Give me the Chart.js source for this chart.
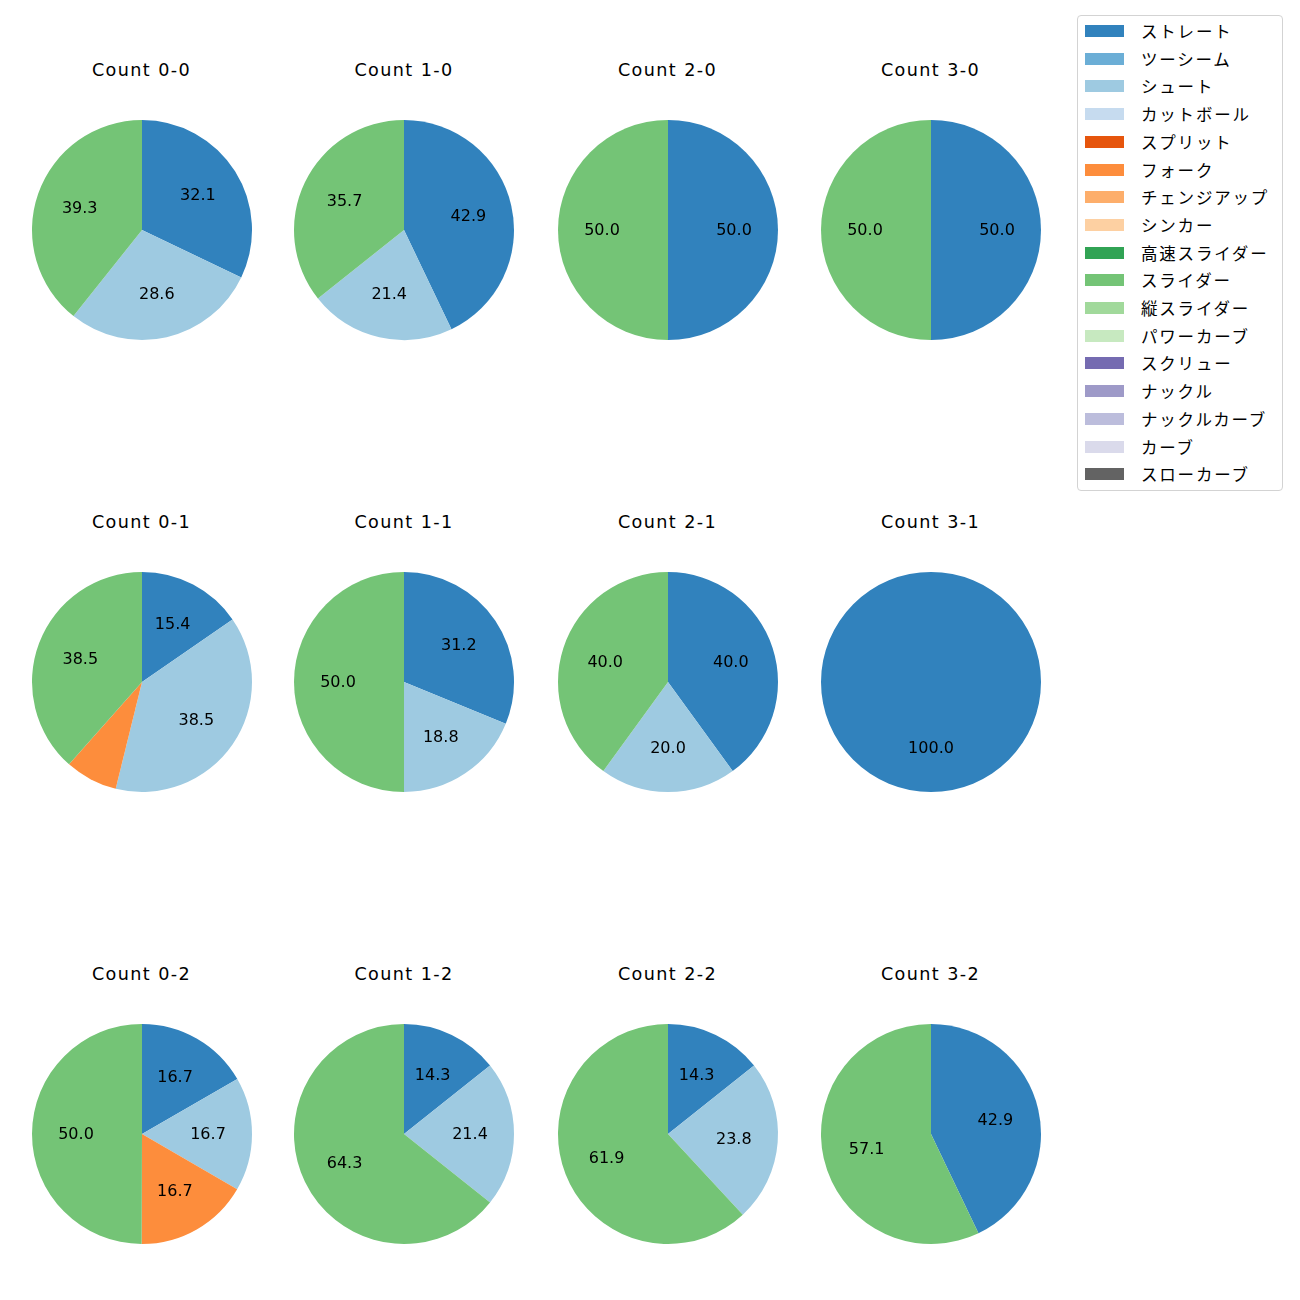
<!DOCTYPE html>
<html>
<head>
<meta charset="utf-8">
<script src="https://cdn.jsdelivr.net/npm/chart.js@4.4.1/dist/chart.umd.min.js"></script>
<style>
  body { margin: 0; background: #fff; font-family: "Noto Sans CJK JP", "DejaVu Sans", sans-serif; }
  #wrap { position: relative; width: 1300px; height: 1300px; }
  .pie { position: absolute; width: 240px; height: 240px; }
  .title { position: absolute; width: 240px; height: 24px; line-height: 24px; text-align: center;
           font-family: "DejaVu Sans", sans-serif; font-size: 17.6px; letter-spacing: 1.4px; color: #000; }
  #legend { position: absolute; left: 1077px; top: 15px; width: 204px; height: 474px; border: 1px solid #d3d3d3; border-radius: 4px; background: #fff; }
  .row { position: absolute; left: 0; height: 20px; width: 200px; }
  .row .sw { position: absolute; left: 7px; top: 4px; width: 39px; height: 12px; }
  .row .tx { position: absolute; left: 63px; top: 0; line-height: 20px; font-size: 16.5px; letter-spacing: 1.8px; color: #000; white-space: nowrap; }
</style>
</head>
<body>
<div id="wrap"></div>
<script>
// pitch types, in legend order
const pitchTypes = ['ストレート', 'ツーシーム', 'シュート', 'カットボール', 'スプリット', 'フォーク',
  'チェンジアップ', 'シンカー', '高速スライダー', 'スライダー', '縦スライダー', 'パワーカーブ',
  'スクリュー', 'ナックル', 'ナックルカーブ', 'カーブ', 'スローカーブ'];
const pitchColors = ['#3182bd', '#6baed6', '#9ecae1', '#c6dbef', '#e6550d', '#fd8d3c',
  '#fdae6b', '#fdd0a2', '#31a354', '#74c476', '#a1d99b', '#c7e9c0',
  '#756bb1', '#9e9ac8', '#bcbddc', '#dadaeb', '#636363'];

// counts, row by row
const counts = ['0-0', '1-0', '2-0', '3-0', '0-1', '1-1', '2-1', '3-1', '0-2', '1-2', '2-2', '3-2'];

// percentages per count (same order as counts)
const straight = [32.1, 42.9, 50.0, 50.0, 15.4, 31.2, 40.0, 100.0, 16.7, 14.3, 14.3, 42.9];
const shoot    = [28.6, 21.4, 0, 0, 38.5, 18.8, 20.0, 0, 16.7, 21.4, 23.8, 0];
const fork     = [0, 0, 0, 0, 7.7, 0, 0, 0, 16.7, 0, 0, 0];
const slider   = [39.3, 35.7, 50.0, 50.0, 38.5, 50.0, 40.0, 0, 50.0, 64.3, 61.9, 57.1];

const colX = [141.5, 404, 667.5, 930.5];
const rowY = [230, 682, 1134];
const titleY = [69, 521, 973];

// percent labels at 0.6 of the radius, hidden under 10%
const pctLabels = {
  id: 'pctLabels',
  afterDatasetsDraw(chart) {
    const ctx = chart.ctx;
    const meta = chart.getDatasetMeta(0);
    const vals = chart.data.datasets[0].data;
    ctx.save();
    ctx.font = '16px "DejaVu Sans", sans-serif';
    ctx.fillStyle = '#000';
    ctx.textAlign = 'center';
    ctx.textBaseline = 'middle';
    meta.data.forEach((arc, i) => {
      if (vals[i] < 10) return;
      const p = arc.getProps(['x', 'y', 'startAngle', 'endAngle', 'outerRadius'], true);
      const a = (p.startAngle + p.endAngle) / 2;
      const r = p.outerRadius * 0.6;
      ctx.fillText(vals[i].toFixed(1), p.x + r * Math.cos(a), p.y + r * Math.sin(a) + 1);
    });
    ctx.restore();
  }
};

const wrap = document.getElementById('wrap');

counts.forEach((c, k) => {
  const cx = colX[k % 4], cy = rowY[Math.floor(k / 4)];
  const t = document.createElement('div');
  t.className = 'title';
  t.textContent = 'Count ' + c;
  t.style.left = (cx - 120) + 'px';
  t.style.top = (titleY[Math.floor(k / 4)] - 11) + 'px';
  wrap.appendChild(t);

  const cv = document.createElement('canvas');
  cv.className = 'pie';
  cv.width = 240; cv.height = 240;
  cv.style.left = (cx - 120) + 'px';
  cv.style.top = (cy - 120) + 'px';
  wrap.appendChild(cv);

  const data = pitchTypes.map(() => 0);
  data[0] = straight[k];
  data[2] = shoot[k];
  data[5] = fork[k];
  data[9] = slider[k];

  new Chart(cv.getContext('2d'), {
    type: 'pie',
    data: {
      labels: pitchTypes,
      datasets: [{ data: data, backgroundColor: pitchColors, borderWidth: 0, hoverOffset: 0 }]
    },
    options: {
      responsive: false,
      maintainAspectRatio: false,
      animation: false,
      layout: { padding: 10 },
      plugins: { legend: { display: false }, tooltip: { enabled: false } }
    },
    plugins: [pctLabels]
  });
});

// legend
const legend = document.createElement('div');
legend.id = 'legend';
pitchTypes.forEach((name, i) => {
  const row = document.createElement('div');
  row.className = 'row';
  row.style.top = (30 + i * 27.7 - 15 - 10) + 'px';
  row.innerHTML = '<div class="sw" style="background:' + pitchColors[i] + '"></div><div class="tx">' + name + '</div>';
  legend.appendChild(row);
});
wrap.appendChild(legend);
</script>
</body>
</html>
